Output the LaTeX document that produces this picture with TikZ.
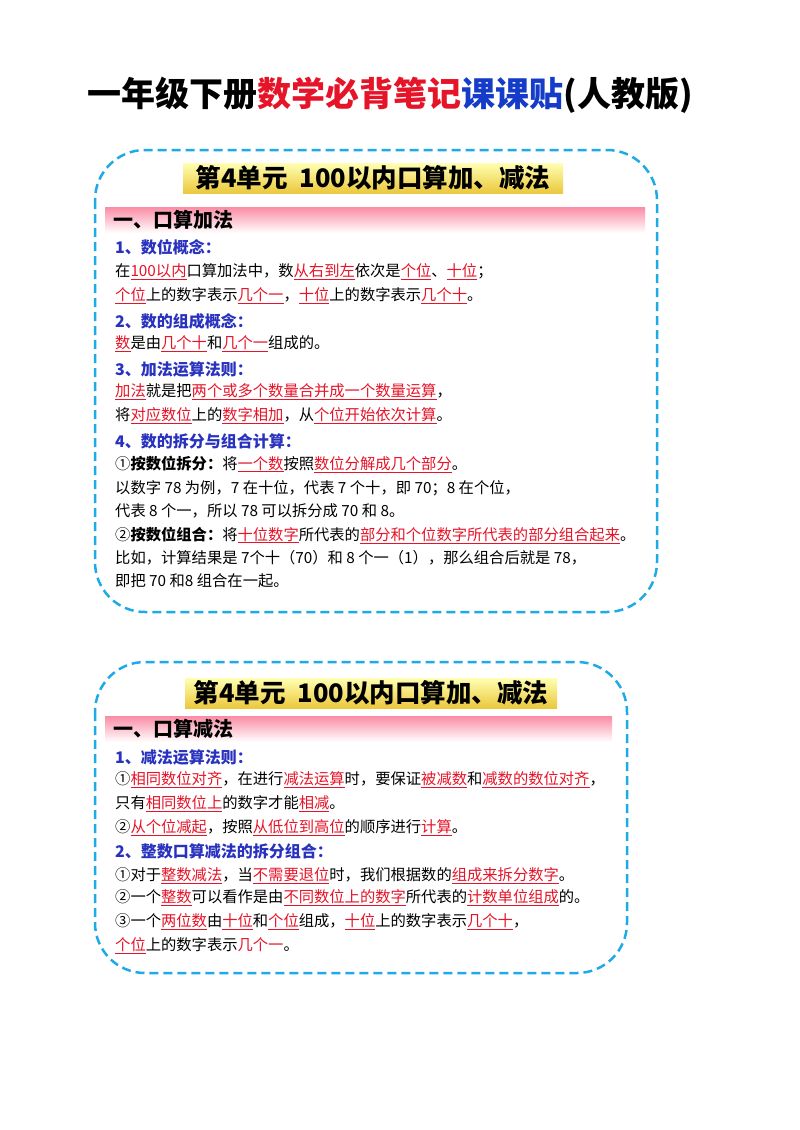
\documentclass[tikz,border=0pt]{standalone}
\usepackage{fontspec}
\setmainfont{Noto Sans CJK SC}
\usetikzlibrary{shapes.geometric}
\definecolor{bblue}{RGB}{30,170,230}
\definecolor{hblue}{RGB}{40,50,190}
\definecolor{tred}{RGB}{230,20,40}
\definecolor{tblue}{RGB}{20,60,200}
\newcommand\hl[1]{\textcolor{tred}{\underline{#1}}}
\begin{document}
\begin{tikzpicture}[x=1pt,y=-1pt,
  box/.style={draw=bblue,line width=2.5pt,dash pattern=on 9pt off 5pt,rounded corners=50pt},
  hdr/.style={top color=yellow!30,bottom color={rgb,255:red,235;green,200;blue,60},draw=none},
  band/.style={top color={rgb,255:red,250;green,140;blue,165},bottom color=white,draw=none},
  hdrtxt/.style={font=\fontsize{25.5}{27}\selectfont\bfseries,inner sep=0pt},
  bandtxt/.style={anchor=west,font=\fontsize{20}{22}\selectfont\bfseries,inner sep=0pt},
  sub/.style={anchor=west,text=hblue,font=\fontsize{16}{18}\selectfont\bfseries,inner sep=0pt},
  ln/.style={anchor=west,font=\fontsize{15.3}{17}\selectfont,inner sep=0pt}]
\useasboundingbox (0,0) rectangle (800,1130);
\fill[white] (0,0) rectangle (800,1130);
\node[font=\fontsize{34}{36}\selectfont\bfseries,inner sep=0pt] (title) at (390,95)
 {一年级下册\textcolor{tred}{数学必背笔记}\textcolor{tblue}{课课贴}(人教版)};
% box 1
\draw[box] (95,150) rectangle (657,612);
\shade[hdr] (183,163) rectangle (563,193);
\node[hdrtxt] (h1) at (373,178) {第4单元\ \ 100以内口算加、减法};
\shade[band] (105,207) rectangle (645,233);
\node[bandtxt] (b1) at (113,220) {一、口算加法};
\node[sub] (s11) at (115,247) {1、数位概念：};
\node[ln] (l1) at (115,272) {在\hl{100以内}口算加法中，数\hl{从右到左}依次是\hl{个位}、\hl{十位}；};
\node[ln] (l2) at (115,296) {\hl{个位}上的数字表示\hl{几个一}，\hl{十位}上的数字表示\hl{几个十}。};
\node[sub] (s12) at (115,321) {2、数的组成概念：};
\node[ln] (l3) at (115,344) {\hl{数}是由\hl{几个十}和\hl{几个一}组成的。};
\node[sub] (s13) at (115,369) {3、加法运算法则：};
\node[ln] (l4) at (115,392) {\hl{加法}就是把\hl{两个或多个数量合并成一个数量运算}，};
\node[ln] (l5) at (115,416) {将\hl{对应数位}上的\hl{数字相加}，从\hl{个位开始依次计算}。};
\node[sub] (s14) at (115,441) {4、数的拆分与组合计算：};
\node[ln] (l6) at (115,464) {①\textbf{按数位拆分：}将\hl{一个数}按照\hl{数位分解成几个部分}。};
\node[ln] (l7) at (115,488) {以数字 78 为例，7 在十位，代表 7 个十，即 70；8 在个位，};
\node[ln] (l8) at (115,511) {代表 8 个一，所以 78 可以拆分成 70 和 8。};
\node[ln] (l9) at (115,535) {②\textbf{按数位组合：}将\hl{十位数字}所代表的\hl{部分和个位数字所代表的部分组合起来}。};
\node[ln] (l10) at (115,558) {比如，计算结果是 7个十（70）和 8 个一（1），那么组合后就是 78，};
\node[ln] (l11) at (115,581) {即把 70 和8 组合在一起。};
% box 2
\draw[box] (95,662) rectangle (627,973);
\shade[hdr] (185,678) rectangle (557,708);
\node[hdrtxt] (h2) at (371,693) {第4单元\ \ 100以内口算加、减法};
\shade[band] (105,716) rectangle (612,742);
\node[bandtxt] (b2) at (113,729) {一、口算减法};
\node[sub] (s21) at (115,757) {1、减法运算法则：};
\node[ln] (m1) at (115,780) {①\hl{相同数位对齐}，在进行\hl{减法运算}时，要保证\hl{被减数}和\hl{减数的数位对齐}，};
\node[ln] (m2) at (115,804) {只有\hl{相同数位上}的数字才能\hl{相减}。};
\node[ln] (m3) at (115,828) {②\hl{从个位减起}，按照\hl{从低位到高位}的顺序进行\hl{计算}。};
\node[sub] (s22) at (115,851) {2、整数口算减法的拆分组合：};
\node[ln] (m4) at (115,876) {①对于\hl{整数减法}，当\hl{不需要退位}时，我们根据数的\hl{组成来拆分数字}。};
\node[ln] (m5) at (115,898) {②一个\hl{整数}可以看作是由\hl{不同数位上的数字}所代表的\hl{计数单位组成}的。};
\node[ln] (m6) at (115,922) {③一个\hl{两位数}由\hl{十位}和\hl{个位}组成，\hl{十位}上的数字表示\hl{几个十}，};
\node[ln] (m7) at (115,946) {\hl{个位}上的数字表示\textcolor{tred}{几个一}。};
\end{tikzpicture}
\end{document}
